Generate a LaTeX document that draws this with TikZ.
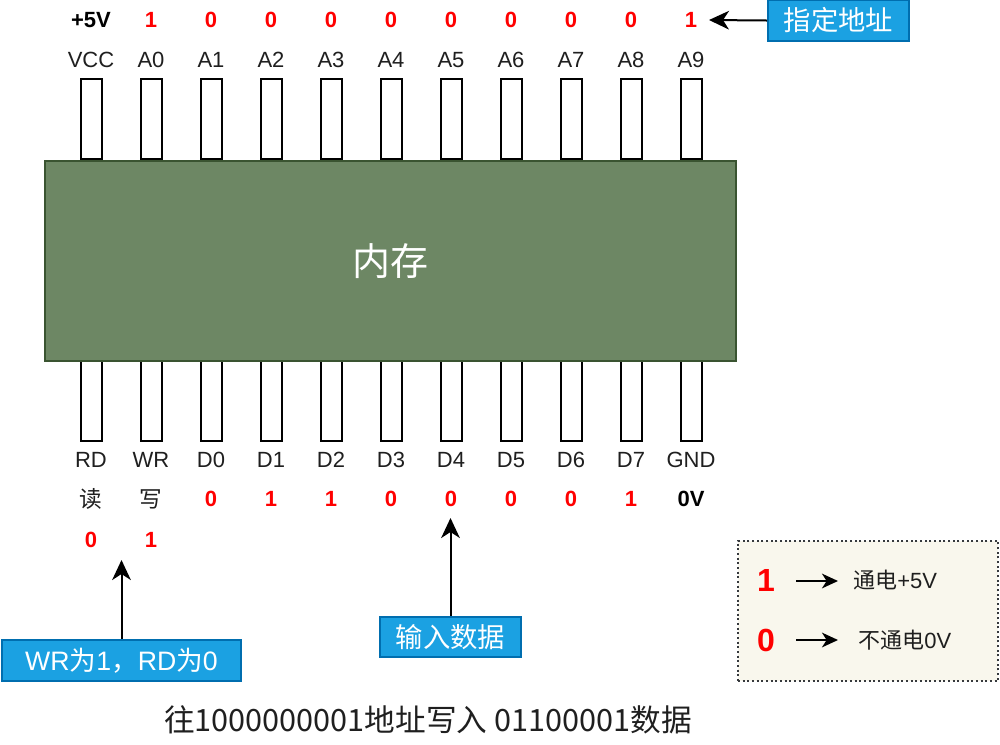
\documentclass[tikz,border=0pt]{standalone}
\usepackage{fontspec}
\setmainfont{Liberation Sans}
\newfontfamily\cjk{Noto Sans CJK SC}
\usetikzlibrary{arrows.meta}
\definecolor{chipfill}{HTML}{6D8764}
\definecolor{chipline}{HTML}{3A5431}
\definecolor{bluefill}{HTML}{1BA1E2}
\definecolor{blueline}{HTML}{006EAF}
\definecolor{legfill}{HTML}{F9F7ED}
\definecolor{legline}{HTML}{36393D}
\definecolor{valred}{HTML}{FF0000}
\newcommand\myfs[1]{\fontsize{#1}{#1}\selectfont}
\begin{document}
\begin{tikzpicture}[x=0.75pt,y=-0.75pt,
  pinbox/.style={draw=black, line width=1.5pt, fill=white, minimum width=15.75pt, minimum height=60pt, inner sep=0pt},
  chip/.style={draw=chipline, line width=1.5pt, fill=chipfill, minimum width=518.25pt, minimum height=150pt, inner sep=0pt, text=white, font=\cjk\myfs{28.5}},
  pinname/.style={inner sep=0pt, font=\myfs{16.5}, text=black!88},
  valtext/.style={inner sep=0pt, font=\bfseries\myfs{16.5}, text=valred},
  bluebox/.style={draw=blueline, line width=1.5pt, fill=bluefill, text=white, inner sep=0pt},
  arr/.style={line width=1.5pt, -{Stealth[length=15pt, width=14pt, inset=4.5pt]}},
  smallarr/.style={line width=1.5pt, -{Stealth[length=12pt, width=11pt, inset=3.5pt]}},
  legbox/.style={draw=legline, line width=1.5pt, dotted, fill=legfill, minimum width=195pt, minimum height=105pt, inner sep=0pt}
]
\useasboundingbox (0,0) rectangle (1000,744);
\fill[white] (0,0) rectangle (1000,744);

% pins
\foreach \i in {0,...,10} {
  \node[pinbox, anchor=south] (tp\i) at ({91+60*\i},160) {};
  \node[pinbox, anchor=north] (bp\i) at ({91+60*\i},360) {};
}
% chip body
\node[chip] (mem) at (390.5,261) {内存};

% top labels
\foreach \i/\t in {0/VCC,1/A0,2/A1,3/A2,4/A3,5/A4,6/A5,7/A6,8/A7,9/A8,10/A9}
  \node[pinname] (tn\i) at ({91+60*\i},60) {\t};
\node[valtext, text=black] (tv0) at (91,20) {+5V};
\foreach \i/\v in {1/1,2/0,3/0,4/0,5/0,6/0,7/0,8/0,9/0,10/1}
  \node[valtext] (tv\i) at ({91+60*\i},20) {\v};

% bottom labels
\foreach \i/\t in {0/RD,1/WR,2/D0,3/D1,4/D2,5/D3,6/D4,7/D5,8/D6,9/D7,10/GND}
  \node[pinname] (bn\i) at ({91+60*\i},460) {\t};
\node[pinname, font=\cjk\myfs{17}] (bv0) at (91,499) {读};
\node[pinname, font=\cjk\myfs{17}] (bv1) at (151,499) {写};
\foreach \i/\v in {2/0,3/1,4/1,5/0,6/0,7/0,8/0,9/1}
  \node[valtext] (bv\i) at ({91+60*\i},499) {\v};
\node[valtext, text=black] (bv10) at (691,499) {0V};
\node[valtext] (rdv) at (91,540) {0};
\node[valtext] (wrv) at (151,540) {1};

% address callout
\node[bluebox, minimum width=105.75pt, minimum height=30.75pt, font=\cjk\myfs{20.5}] (addr) at (838.5,20.5) {指定地址};
\coordinate (addrtip) at (709,20);
\draw[arr] (addr.west) -- (addrtip);

% WR/RD callout
\node[bluebox, minimum width=179.25pt, minimum height=30.75pt, font=\myfs{20}] (wrbox) at (121.5,660.5) {WR{\cjk 为}1{\cjk ，}RD{\cjk 为}0};
\coordinate (wrtip) at (121.5,560);
\draw[arr] (wrbox.north) -- (wrtip);

% data callout
\node[bluebox, minimum width=105.75pt, minimum height=30pt, font=\cjk\myfs{20.5}] (databox) at (450.5,637) {输入数据};
\coordinate (datatip) at (450.5,518);
\draw[arr] (databox.north) -- (datatip);

% legend
\node[legbox] (leg) at (868,611) {};
\node[inner sep=0pt, font=\bfseries\myfs{24}, text=valred] (l1) at (766,580) {1};
\node[inner sep=0pt, font=\bfseries\myfs{24}, text=valred] (l0) at (766,640) {0};
\coordinate (a1s) at (796,581);
\coordinate (a1e) at (838,581);
\coordinate (a0s) at (796,640);
\coordinate (a0e) at (838,640);
\draw[smallarr] (a1s) -- (a1e);
\draw[smallarr] (a0s) -- (a0e);
\node[inner sep=0pt, anchor=west, font=\myfs{16.5}, text=black!88] (t1) at (853,580) {{\cjk 通电}+5V};
\node[inner sep=0pt, anchor=west, font=\myfs{16.5}, text=black!88] (t0) at (858,640) {{\cjk 不通电}0V};

% caption
\node[inner sep=0pt, font=\cjk\myfs{23}, text=black!88] (cap) at (428,720) {往1000000001地址写入 01100001数据};
\end{tikzpicture}
\end{document}
